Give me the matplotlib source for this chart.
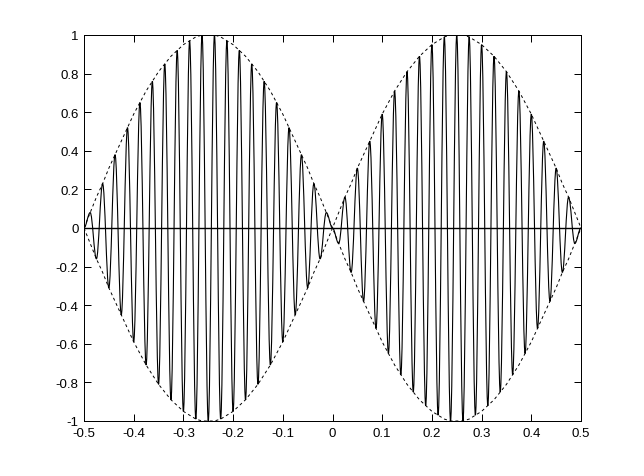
import numpy as np
import matplotlib
matplotlib.use("Agg")
import matplotlib.pyplot as plt
from matplotlib.path import Path
from matplotlib.patches import PathPatch
from matplotlib.ticker import FormatStrFormatter

plt.rcParams['font.family'] = ['Liberation Sans', 'DejaVu Sans']
plt.rcParams['axes.unicode_minus'] = False

# carrier extrema, every half period from -0.5 to 0.5
t = np.linspace(-0.5, 0.5, 81)
signal = [0, 0.08, -0.16, 0.23, -0.31, 0.38, -0.45, 0.52, -0.59, 0.65,
          -0.71, 0.76, -0.81, 0.85, -0.89, 0.92, -0.95, 0.97, -0.99, 1.0,
          -1.0, 1.0, -0.99, 0.97, -0.95, 0.92, -0.89, 0.85, -0.81, 0.76,
          -0.71, 0.65, -0.59, 0.52, -0.45, 0.38, -0.31, 0.23, -0.16, 0.08,
          0,
          -0.08, 0.16, -0.23, 0.31, -0.38, 0.45, -0.52, 0.59, -0.65,
          0.71, -0.76, 0.81, -0.85, 0.89, -0.92, 0.95, -0.97, 0.99, -1.0,
          1.0, -1.0, 0.99, -0.97, 0.95, -0.92, 0.89, -0.85, 0.81, -0.76,
          0.71, -0.65, 0.59, -0.52, 0.45, -0.38, 0.31, -0.23, 0.16, -0.08,
          0]
envelope = np.abs(signal)

xticks = [-0.5, -0.4, -0.3, -0.2, -0.1, 0, 0.1, 0.2, 0.3, 0.4, 0.5]
yticks = [-1, -0.8, -0.6, -0.4, -0.2, 0, 0.2, 0.4, 0.6, 0.8, 1]

fig = plt.figure(figsize=(6.44, 4.77), dpi=100)
ax = fig.add_axes([84/644, 55/477, 497/644, 386/477])

# smooth curve through the extrema: flat tangents at each peak
verts = [(t[0], signal[0])]
codes = [Path.MOVETO]
for i in range(1, len(t)):
    h = t[i] - t[i-1]
    verts += [(t[i-1] + 0.3642*h, signal[i-1]),
              (t[i] - 0.3642*h, signal[i]),
              (t[i], signal[i])]
    codes += [Path.CURVE4]*3
ax.add_patch(PathPatch(Path(verts, codes), facecolor='none',
                       edgecolor='k', lw=0.8))

ax.plot(t, envelope, color='k', lw=0.7, ls=(0, (3, 3)))
ax.plot(t, -envelope, color='k', lw=0.7, ls=(0, (3, 3)))
ax.plot([-0.5, 0.5], [0, 0], color='k', lw=1.0)

ax.set_xlim(-0.5, 0.5)
ax.set_ylim(-1, 1)
ax.set_xticks(xticks)
ax.set_yticks(yticks)
ax.xaxis.set_major_formatter(FormatStrFormatter('%g'))
ax.yaxis.set_major_formatter(FormatStrFormatter('%g'))
ax.tick_params(direction='in', length=5, width=0.72, labelsize=9.5,
               top=True, right=True, pad=4)
for sp in ax.spines.values():
    sp.set_linewidth(0.72)

fig.savefig("out.png", dpi=100, facecolor='white')
